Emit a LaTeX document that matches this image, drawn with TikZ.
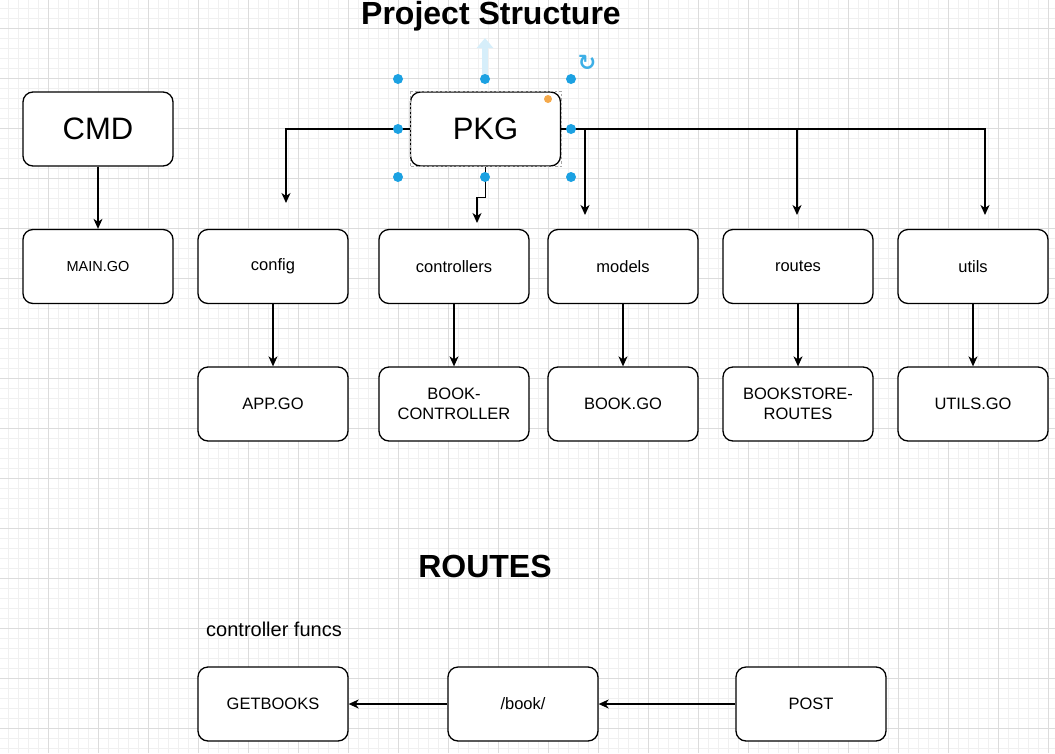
\documentclass[tikz,border=0pt]{standalone}
\usepackage{fontspec}
\setmainfont{Liberation Sans}
\newfontfamily\symfont{DejaVu Sans}
\usetikzlibrary{arrows.meta}
\definecolor{gridminor}{HTML}{F0F0F0}
\definecolor{gridmajor}{HTML}{DCDCDC}
\definecolor{handle}{HTML}{1BA1E2}
\definecolor{orangeh}{HTML}{F5A94A}
\begin{document}
\begin{tikzpicture}[x=1pt,y=-1pt,
  box/.style={draw=black, line width=1.3pt, rounded corners=10pt, fill=white,
    minimum width=150pt, minimum height=74pt, inner sep=0pt, align=center,
    font=\fontsize{16.5}{19.5}\selectfont},
  smallbox/.style={box, font=\fontsize{14.5}{17}\selectfont},
  bigbox/.style={box, font=\fontsize{31}{36}\selectfont},
  arr/.style={draw=black, line width=1.3pt, -{Stealth[length=10pt,width=9pt,inset=3pt]}},
  titletext/.style={font=\bfseries\fontsize{32}{37}\selectfont, inner sep=0pt},
  handledot/.style={circle, fill=handle, minimum size=10pt, inner sep=0pt},
  hint/.style={draw=handle!18, line width=6pt, -{Triangle[length=10pt,width=16pt]}},
]
\useasboundingbox (0,0) rectangle (1055,753);
\fill[white] (0,0) rectangle (1055,753);
% grid
\foreach \x in {8,18,...,1055} \draw[gridminor, line width=0.8pt] (\x,0) -- (\x,753);
\foreach \y in {8,18,...,753} \draw[gridminor, line width=0.8pt] (0,\y) -- (1055,\y);
\foreach \x in {48,98,...,1055} \draw[gridmajor, line width=0.9pt] (\x,0) -- (\x,753);
\foreach \y in {28,78,...,753} \draw[gridmajor, line width=0.9pt] (0,\y) -- (1055,\y);

% titles
\node[titletext] (title) at (491,16) {Project Structure};
\node[titletext] (routestitle) at (485,566) {ROUTES};
\node[anchor=west, inner sep=0pt, font=\fontsize{20}{24}\selectfont] (cf) at (206,629) {controller funcs};

% faint hint arrow above PKG
\coordinate (h1) at (485,76);
\coordinate (h2) at (485,38);
\draw[hint] (h1) -- (h2);

% top boxes
\node[bigbox] (cmd) at (98,129) {CMD};
\node[bigbox] (pkg) at (485.5,129) {PKG};
\draw[gray!70, line width=0.6pt, dash pattern=on 2.5pt off 2pt] (pkg.north west) rectangle (pkg.south east);

% row 2
\node[smallbox] (main) at (98,266.5) {MAIN.GO};
\node[box] (config) at (273,266.5) {config};
\node[box] (controllers) at (454,266.5) {controllers};
\node[box] (models) at (623,266.5) {models};
\node[box] (routes) at (798,266.5) {routes};
\node[box] (utils) at (973,266.5) {utils};

% row 3
\node[box] (appgo) at (273,404) {APP.GO};
\node[box] (bookctrl) at (454,404) {BOOK-\\CONTROLLER};
\node[box] (bookgo) at (623,404) {BOOK.GO};
\node[box] (bsroutes) at (798,404) {BOOKSTORE-\\ROUTES};
\node[box] (utilsgo) at (973,404) {UTILS.GO};

% bottom row
\node[box] (getbooks) at (273,704) {GETBOOKS};
\node[box] (book) at (523,704) {/book/};
\node[box] (post) at (811,704) {POST};

% connectors
\draw[arr] (cmd) -- (main);
\coordinate (c1) at (286,203);
\coordinate (c2) at (477,223);
\coordinate (c3) at (585,215);
\coordinate (c4) at (797,215);
\coordinate (c5) at (985,215);
\draw[arr] (pkg.west) -| (c1);
\draw[arr] (pkg.south) -- ++(0,31) -| (c2);
\draw[arr] (pkg.east) -| (c3);
\draw[arr] (pkg.east) -| (c4);
\draw[arr] (pkg.east) -| (c5);

\draw[arr] (config) -- (appgo);
\draw[arr] (controllers) -- (bookctrl);
\draw[arr] (models) -- (bookgo);
\draw[arr] (routes) -- (bsroutes);
\draw[arr] (utils) -- (utilsgo);

\draw[arr] (book) -- (getbooks);
\draw[arr] (post) -- (book);

% selection handles
\node[handledot] (hd1) at (398,79) {};
\node[handledot] (hd2) at (485,79) {};
\node[handledot] (hd3) at (571,79) {};
\node[handledot] (hd4) at (398,129) {};
\node[handledot] (hd5) at (571,129) {};
\node[handledot] (hd6) at (398,177) {};
\node[handledot] (hd7) at (485,177) {};
\node[handledot] (hd8) at (571,177) {};
\node[circle, fill=orangeh, minimum size=8pt, inner sep=0pt] (od) at (548,99) {};
\node[text=handle!85, inner sep=0pt, font=\symfont\bfseries\fontsize{22}{22}\selectfont] (rot) at (587,63) {↻};
\end{tikzpicture}
\end{document}
